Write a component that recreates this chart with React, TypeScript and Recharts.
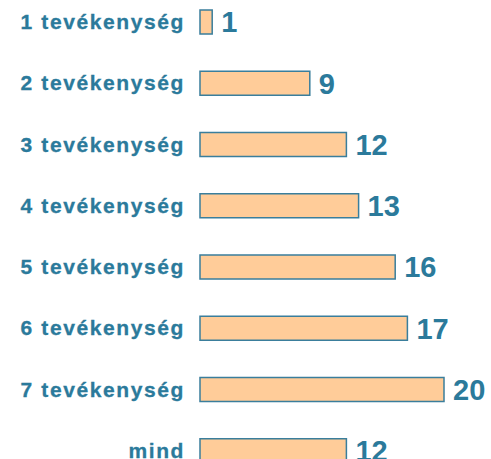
import React from "react";
import { BarChart, Bar, XAxis, YAxis, LabelList } from "recharts";

const categories = [
  "1 tevékenység",
  "2 tevékenység",
  "3 tevékenység",
  "4 tevékenység",
  "5 tevékenység",
  "6 tevékenység",
  "7 tevékenység",
  "mind",
];
const values = [1, 9, 12, 13, 16, 17, 20, 12];

const data = categories.map((c, i) => ({ name: c, value: values[i] }));

const TEXT = "#2B7A9B";
const FONT = "'Liberation Sans', Arial, Helvetica, sans-serif";

const CatTick = (props: any) => {
  const { x, y, payload } = props;
  return (
    <text
      x={x}
      y={y}
      dy="0.36em"
      textAnchor="end"
      fill={TEXT}
      stroke={TEXT}
      strokeWidth={0.3}
      fontSize={21}
      fontWeight="bold"
      fontFamily={FONT}
      letterSpacing={1.6}
    >
      {payload.value}
    </text>
  );
};

export default function App() {
  return (
    <div style={{ position: "absolute", left: 0, top: -9 }}>
      <BarChart
        width={491}
        height={490}
        data={data}
        layout="vertical"
        margin={{ top: 0, right: 47, bottom: 0, left: 0 }}
      >
        <XAxis type="number" domain={[0, 20]} hide />
        <YAxis
          type="category"
          dataKey="name"
          width={200}
          axisLine={false}
          tickLine={false}
          tickMargin={9}
          tick={<CatTick />}
          interval={0}
        />
        <Bar
          dataKey="value"
          barSize={24}
          fill="#FFCC99"
          stroke="#3A7E9C"
          strokeWidth={1.5}
          isAnimationActive={false}
        >
          <LabelList
            dataKey="value"
            position="right"
            offset={9}
            fill={TEXT}
            fontSize={29}
            fontWeight="bold"
            fontFamily={FONT}
          />
        </Bar>
      </BarChart>
    </div>
  );
}
